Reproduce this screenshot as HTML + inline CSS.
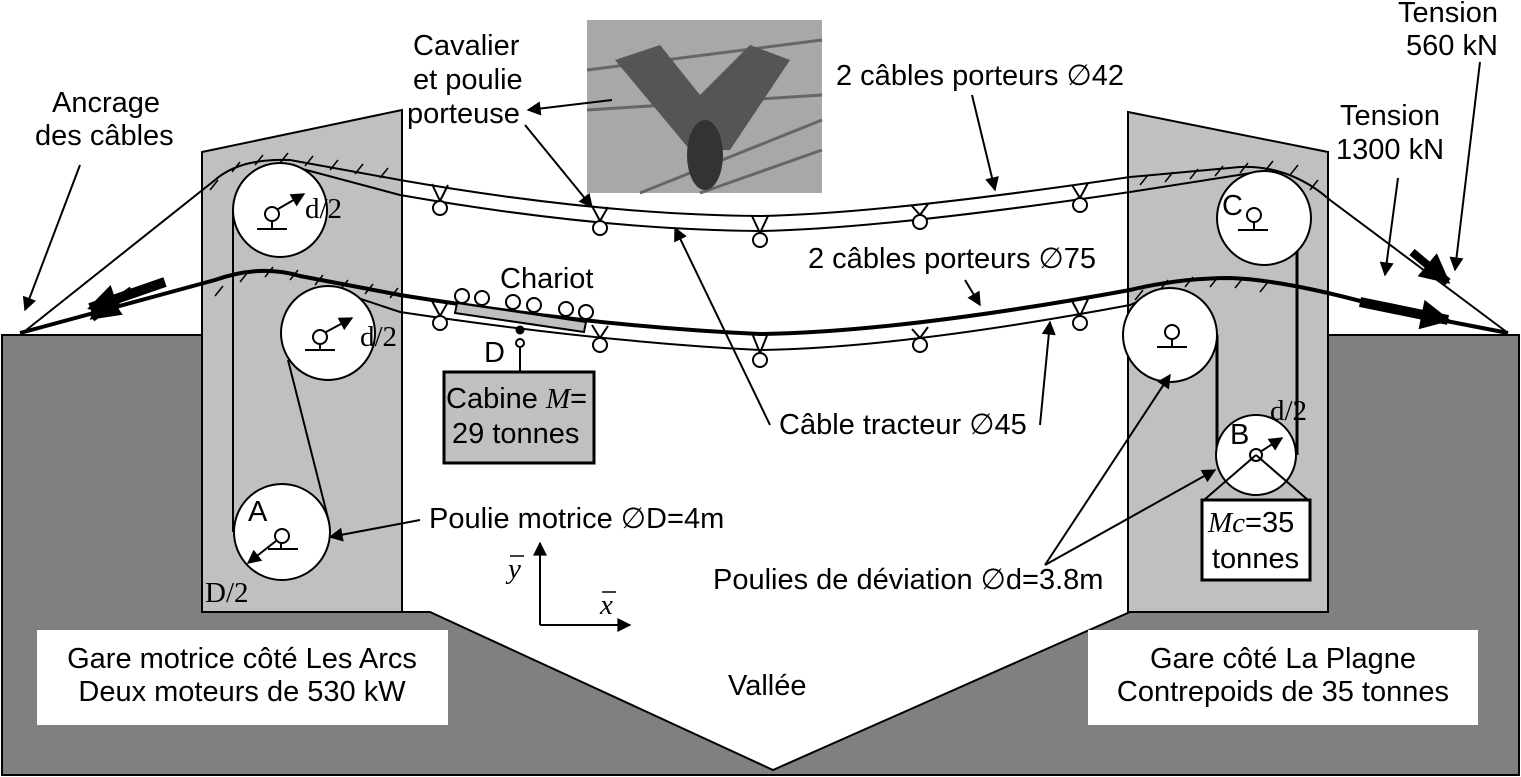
<!DOCTYPE html>
<html><head><meta charset="utf-8"><style>
html,body{margin:0;padding:0;background:#fff}
svg{display:block}
text{font-family:"Liberation Sans",sans-serif;font-size:29px;fill:#000}
.ser{font-family:"Liberation Serif",serif}
</style></head><body>
<svg width="1521" height="777" viewBox="0 0 1521 777">
<defs>
<marker id="ar" viewBox="0 0 10 10" refX="9" refY="5" markerWidth="16" markerHeight="14" orient="auto" markerUnits="userSpaceOnUse"><path d="M0,0 L10,5 L0,10 z" fill="#000"/></marker>
<marker id="arb" viewBox="0 0 10 10" refX="9" refY="5" markerWidth="34" markerHeight="30" orient="auto" markerUnits="userSpaceOnUse"><path d="M0,0 L10,5 L0,10 z" fill="#000"/></marker>
</defs>
<path d="M2,335 L202,335 L202,612 L430,612 L773,770 L1130,612 L1328,612 L1328,335 L1519,335 L1519,775 L2,775 Z" fill="#808080" stroke="#000" stroke-width="2"/>
<path d="M202,152 L402,110 L402,612 L202,612 Z" fill="#c0c0c0" stroke="#000" stroke-width="2"/>
<path d="M1128,112 L1328,152 L1328,612 L1128,612 Z" fill="#c0c0c0" stroke="#000" stroke-width="2"/>
<g>
<rect x="587" y="20" width="235" height="173" fill="#a8a8a8"/>
<path d="M587,70 L822,40 M587,110 L822,95 M640,193 L822,120 M700,193 L822,150" stroke="#666" stroke-width="3"/>
<path d="M615,60 L660,45 L700,95 L750,45 L790,60 L730,150 L690,150 Z" fill="#555"/>
<ellipse cx="705" cy="155" rx="18" ry="35" fill="#333"/>
</g>
<g fill="none" stroke="#000" stroke-width="2">
<path d="M20,335 L215,180 Q240,158 290,160 L400,180 Q600,215 760,216 Q880,214 1130,177 L1240,167 Q1290,165 1330,200 L1508,333"/>
<path d="M280,163 L400,195 Q600,230 760,231 Q880,229 1130,192 L1264,171"/>
</g>
<g stroke="#000" stroke-width="1.5">
<path d="M210,190 l8,-10 M232,172 l8,-10 M255,165 l8,-10 M280,163 l8,-10 M305,166 l8,-10 M330,170 l8,-10 M355,174 l8,-10 M380,178 l8,-10 M1140,185 l8,-10 M1165,182 l8,-10 M1190,179 l8,-10 M1215,176 l8,-10 M1240,173 l8,-10 M1265,171 l8,-10 M1290,175 l8,-10 M1310,190 l8,-10"/>
</g>
<g fill="none" stroke="#000">
<path stroke-width="4" d="M20,333 L215,280 Q260,264 300,276 L400,295 Q600,327 760,334 Q900,332 1130,290 Q1180,278 1230,278 Q1290,280 1400,312 L1508,333"/>
<path stroke-width="2" d="M328,288 L400,312 Q600,342 760,350 Q900,348 1130,305 L1170,288"/>
</g>
<g stroke="#000" stroke-width="1.5">
<path d="M215,296 l8,-10 M240,282 l8,-10 M265,277 l8,-10 M290,280 l8,-10 M315,285 l8,-10 M340,290 l8,-10 M365,294 l8,-10 M390,298 l8,-10 M1135,300 l8,-10 M1160,290 l8,-10 M1185,287 l8,-10 M1210,287 l8,-10 M1235,288 l8,-10 M1260,292 l8,-10"/>
</g>
<g fill="#fff" stroke="#000" stroke-width="2">
<path d="M432,184 L440,201 L448,185 M592,206 L600,221 L608,207 M752,216 L760,233 L768,216 M912,206 L920,215 L928,204 M1072,185 L1080,198 L1088,183" fill="none"/>
<circle cx="440" cy="208" r="7"/><circle cx="600" cy="228" r="7"/><circle cx="760" cy="240" r="7"/><circle cx="920" cy="222" r="7"/><circle cx="1080" cy="205" r="7"/>
<path d="M432,301 L440,316 L448,302 M592,325 L600,338 L608,326 M752,333 L760,353 L768,333 M912,329 L920,338 L928,327 M1072,301 L1080,316 L1088,299" fill="none"/>
<circle cx="440" cy="323" r="7"/><circle cx="600" cy="345" r="7"/><circle cx="760" cy="360" r="7"/><circle cx="920" cy="345" r="7"/><circle cx="1080" cy="323" r="7"/>
</g>
<g stroke="#000" stroke-width="2">
<path d="M457,303 L586,322 L584,332 L455,313 Z" fill="#c0c0c0"/>
<g fill="#fff"><circle cx="462" cy="296" r="7"/><circle cx="482" cy="298" r="7"/><circle cx="513" cy="302" r="7"/><circle cx="534" cy="305" r="7"/><circle cx="566" cy="309" r="7"/><circle cx="586" cy="312" r="7"/></g>
<circle cx="520" cy="330" r="3.5" fill="#000"/><circle cx="520" cy="343" r="4" fill="#fff"/>
<line x1="520" y1="347" x2="520" y2="372"/>
</g>
<text x="500" y="288">Chariot</text>
<text x="484" y="362">D</text>
<rect x="444" y="372" width="150" height="91" fill="#c0c0c0" stroke="#000" stroke-width="3"/>
<text x="446" y="408">Cabine <tspan class="ser" font-style="italic">M</tspan>=</text>
<text x="452" y="443">29 tonnes</text>
<g fill="#fff" stroke="#000" stroke-width="2">
<line x1="233" y1="210" x2="233" y2="532"/><line x1="288" y1="360" x2="329" y2="522"/>
<circle cx="280" cy="210" r="47"/>
<circle cx="328" cy="333" r="47"/>
<circle cx="282" cy="532" r="48"/>
<circle cx="272" cy="214" r="7"/><circle cx="320" cy="337" r="7"/><circle cx="282" cy="536" r="7"/>
<path d="M272,221 v8 M257,229 h30 M281,543 v6 M268,549 h30 M320,344 v6 M305,350 h30" fill="none"/>
<path d="M278,209 L304,194" marker-end="url(#ar)" fill="none"/>
<path d="M326,332 L352,318" marker-end="url(#ar)" fill="none"/>
<path d="M276,541 L248,563" marker-end="url(#ar)" fill="none"/>
</g>
<text x="305" y="218" class="ser" font-size="24">d/2</text>
<text x="360" y="346" class="ser" font-size="24">d/2</text>
<text x="248" y="521">A</text>
<text x="205" y="602" class="ser" font-size="24">D/2</text>
<g fill="#fff" stroke="#000" stroke-width="2">
<line x1="1217" y1="335" x2="1217" y2="455" stroke-width="3"/><line x1="1297" y1="205" x2="1297" y2="455" stroke-width="3"/>
<circle cx="1264" cy="218" r="47"/>
<circle cx="1170" cy="335" r="47"/>
<circle cx="1256" cy="455" r="40"/>
<circle cx="1254" cy="215" r="7"/><circle cx="1172" cy="332" r="7"/><circle cx="1256" cy="455" r="6"/>
<path d="M1254,222 v8 M1238,230 h30 M1172,339 v8 M1157,347 h30" fill="none"/>
<path d="M1260,452 L1282,438" marker-end="url(#ar)" fill="none"/>
<path d="M1256,455 L1204,500 M1256,455 L1308,500" fill="none"/>
</g>
<text x="1222" y="215">C</text>
<text x="1230" y="444">B</text>
<text x="1270" y="420" class="ser" font-size="24">d/2</text>
<rect x="1202" y="500" width="108" height="80" fill="#fff" stroke="#000" stroke-width="3"/>
<text x="1208" y="532"><tspan class="ser" font-style="italic">Mc</tspan>=35</text>
<text x="1212" y="568">tonnes</text>
<g stroke="#000" fill="none">
<path d="M132,290 L92,318" stroke-width="8" marker-end="url(#arb)"/>
<path d="M165,282 L90,308" stroke-width="10" marker-end="url(#arb)"/>
<path d="M1412,252 L1448,282" stroke-width="8" marker-end="url(#arb)"/>
<path d="M1360,302 L1448,320" stroke-width="10" marker-end="url(#arb)"/>
</g>
<g stroke="#000" stroke-width="2" fill="none">
<path d="M80,165 L25,310" marker-end="url(#ar)"/>
<path d="M525,125 L592,207" marker-end="url(#ar)"/>
<path d="M612,100 L528,110" marker-end="url(#ar)"/>
<path d="M972,95 L995,190" marker-end="url(#ar)"/>
<path d="M965,280 L980,305" marker-end="url(#ar)"/>
<path d="M770,425 L675,228" marker-end="url(#ar)"/>
<path d="M1040,425 L1050,322" marker-end="url(#ar)"/>
<path d="M420,520 L330,537" marker-end="url(#ar)"/>
<path d="M1045,565 L1170,375" marker-end="url(#ar)"/>
<path d="M1045,565 L1215,470" marker-end="url(#ar)"/>
<path d="M1398,178 L1385,275" marker-end="url(#ar)"/>
<path d="M1480,62 L1455,270" marker-end="url(#ar)"/>
<path d="M540,625 L540,543" marker-end="url(#ar)"/>
<path d="M540,625 L630,625" marker-end="url(#ar)"/>
<path d="M510,556 h14 M602,592 h14" stroke-width="1.5"/>
</g>
<g>
<text x="52" y="112">Ancrage</text>
<text x="35" y="145">des câbles</text>
<text x="413" y="55">Cavalier</text>
<text x="413" y="89">et poulie</text>
<text x="407" y="123">porteuse</text>
<text x="836" y="85">2 câbles porteurs ∅42</text>
<text x="808" y="268">2 câbles porteurs ∅75</text>
<text x="779" y="434">Câble tracteur ∅45</text>
<text x="429" y="528">Poulie motrice ∅D=4m</text>
<text x="713" y="589">Poulies de déviation ∅d=3.8m</text>
<text x="1398" y="22">Tension</text>
<text x="1406" y="55">560 kN</text>
<text x="1340" y="125">Tension</text>
<text x="1336" y="159">1300 kN</text>
<text x="728" y="695">Vallée</text>
<text x="508" y="578" class="ser" font-style="italic">y</text>
<text x="600" y="614" class="ser" font-style="italic">x</text>
</g>
<rect x="37" y="630" width="411" height="95" fill="#fff"/>
<text x="242" y="668" text-anchor="middle">Gare motrice côté Les Arcs</text>
<text x="242" y="701" text-anchor="middle">Deux moteurs de 530 kW</text>
<rect x="1088" y="630" width="390" height="95" fill="#fff"/>
<text x="1283" y="668" text-anchor="middle">Gare côté La Plagne</text>
<text x="1283" y="701" text-anchor="middle">Contrepoids de 35 tonnes</text>
</svg>
</body></html>
